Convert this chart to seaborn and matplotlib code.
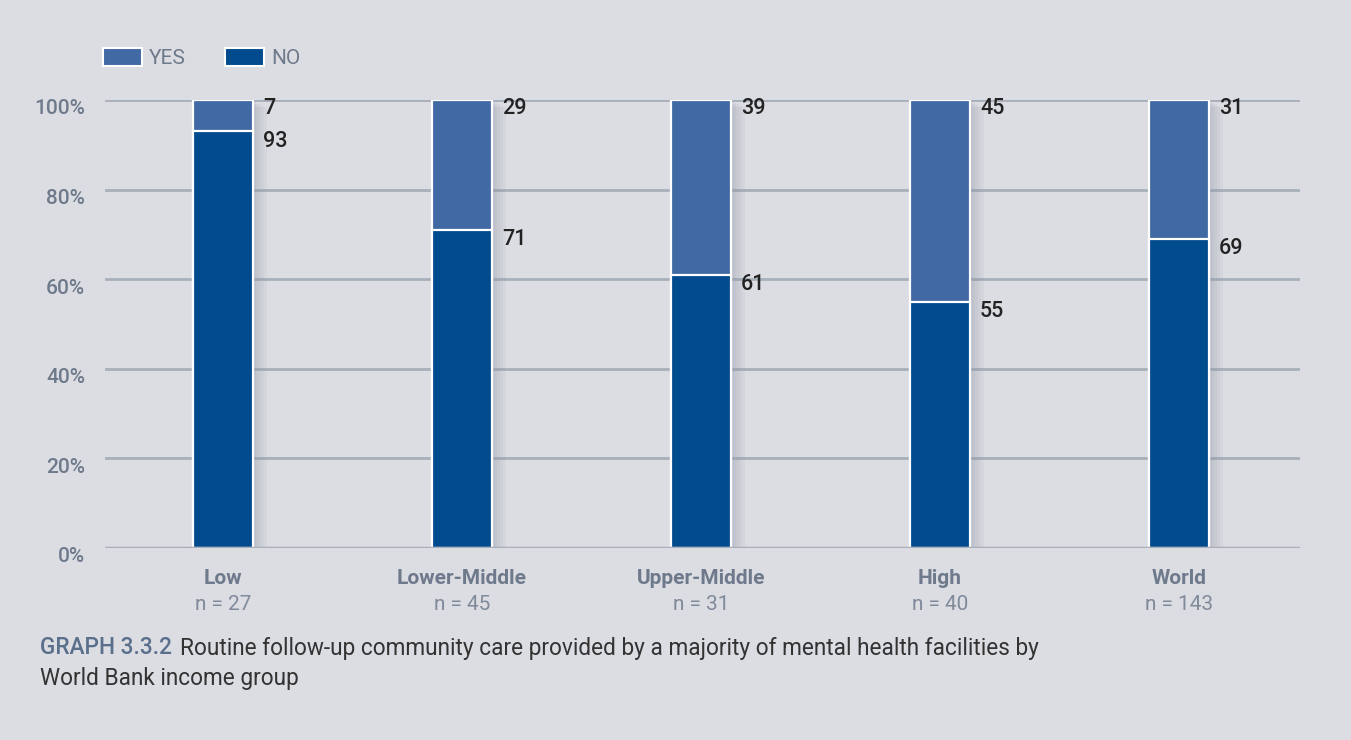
import matplotlib.pyplot as plt
import matplotlib.patheffects as pe
from matplotlib.patches import Patch
import seaborn as sns
import pandas as pd

groups = ['Low', 'Lower-Middle', 'Upper-Middle', 'High', 'World']
n_sizes = [27, 45, 31, 40, 143]
yes_pct = [7, 29, 39, 45, 31]
no_pct = [93, 71, 61, 55, 69]
y_ticks = [0, 20, 40, 60, 80, 100]

BG = '#dcdde2'
YES_C = '#4169a4'
NO_C = '#004a8e'
GREY = '#6e7a8c'

sns.set_theme(style='white')
plt.rcParams['font.family'] = ['Roboto', 'DejaVu Sans']

df = pd.DataFrame({'group': groups, 'yes': yes_pct, 'no': no_pct})
df['total'] = df['yes'] + df['no']

fig = plt.figure(figsize=(13.51, 7.40), dpi=100, facecolor=BG)
ax = fig.add_axes([105 / 1351, 1 - 548 / 740, 1195 / 1351, 448 / 740])
ax.set_facecolor(BG)

# soft shadow: a few faint offset copies
shadow = [pe.SimplePatchShadow(offset=(d, -d / 2), shadow_rgbFace='#8f96aa', alpha=0.09)
          for d in (2, 4, 6, 8, 10)] + [pe.Normal()]

# yes drawn as full-height bar, no drawn on top of it
sns.barplot(data=df, x='group', y='total', color=YES_C, saturation=1, width=0.25,
            edgecolor='white', linewidth=1.6, ax=ax, zorder=3)
sns.barplot(data=df, x='group', y='no', color=NO_C, saturation=1, width=0.25,
            edgecolor='white', linewidth=1.6, ax=ax, zorder=4)
for p in ax.patches[:len(groups)]:
    p.set_path_effects(shadow)

ax.set_xlim(-0.494, 4.506)
ax.set_ylim(0, 100)
ax.set_yticks(y_ticks)
ax.set_yticklabels([])
for v in y_ticks[1:]:
    ax.axhline(v, color='#a7afba', lw=2, zorder=1)
ax.axhline(0, color='#a7afba', lw=2.5, zorder=5)
for v in y_ticks:
    ax.annotate(f'{v}%', xy=(0, v), xycoords=('axes fraction', 'data'), xytext=(-20, -9),
                textcoords='offset pixels', ha='right', va='center', fontsize=15,
                fontweight='medium', color=GREY)
ax.tick_params(axis='both', length=0)
sns.despine(ax=ax, left=True, bottom=True)
ax.set_xlabel('')
ax.set_ylabel('')
ax.set_xticks(range(len(groups)))
ax.set_xticklabels([])

for i, g in enumerate(groups):
    ax.annotate(g, xy=(i, 0), xytext=(0, -30), textcoords='offset pixels',
                ha='center', va='center', fontsize=15, fontweight='bold', color=GREY)
    ax.annotate(f'n = {n_sizes[i]}', xy=(i, 0), xytext=(0, -56), textcoords='offset pixels',
                ha='center', va='center', fontsize=15, color='#7f8a9b')
    ax.annotate(str(yes_pct[i]), xy=(i + 0.125, df['total'][i]), xytext=(10, -9),
                textcoords='offset pixels', ha='left', va='center', fontsize=15.5,
                fontweight='medium', color='#222222')
    ax.annotate(str(no_pct[i]), xy=(i + 0.125, no_pct[i]), xytext=(10, -10),
                textcoords='offset pixels', ha='left', va='center', fontsize=15.5,
                fontweight='medium', color='#222222')

handles = [Patch(facecolor=YES_C, edgecolor='white', lw=1.5, label='YES'),
           Patch(facecolor=NO_C, edgecolor='white', lw=1.5, label='NO')]
fig.legend(handles=handles, loc='upper left', bbox_to_anchor=(103 / 1351, 1 - 48 / 740),
           ncol=2, frameon=False, fontsize=15, labelcolor=GREY, handlelength=1.85,
           handleheight=0.95, handletextpad=0.35, columnspacing=1.9, borderpad=0, borderaxespad=0)

t1 = fig.text(40 / 1351, 1 - 648 / 740, 'GRAPH 3.3.2', fontsize=16.3, color='#5a6f8c',
              fontweight='medium', va='center')
ax.annotate('Routine follow-up community care provided by a majority of mental health facilities by',
            xy=(1, 0.5), xycoords=t1, xytext=(8, 0), textcoords='offset pixels',
            fontsize=16.3, color='#333333', va='center', ha='left', annotation_clip=False)
fig.text(40 / 1351, 1 - 678 / 740, 'World Bank income group', fontsize=16.3, color='#333333', va='center')

fig.savefig('out.png', dpi=100, facecolor=BG)
